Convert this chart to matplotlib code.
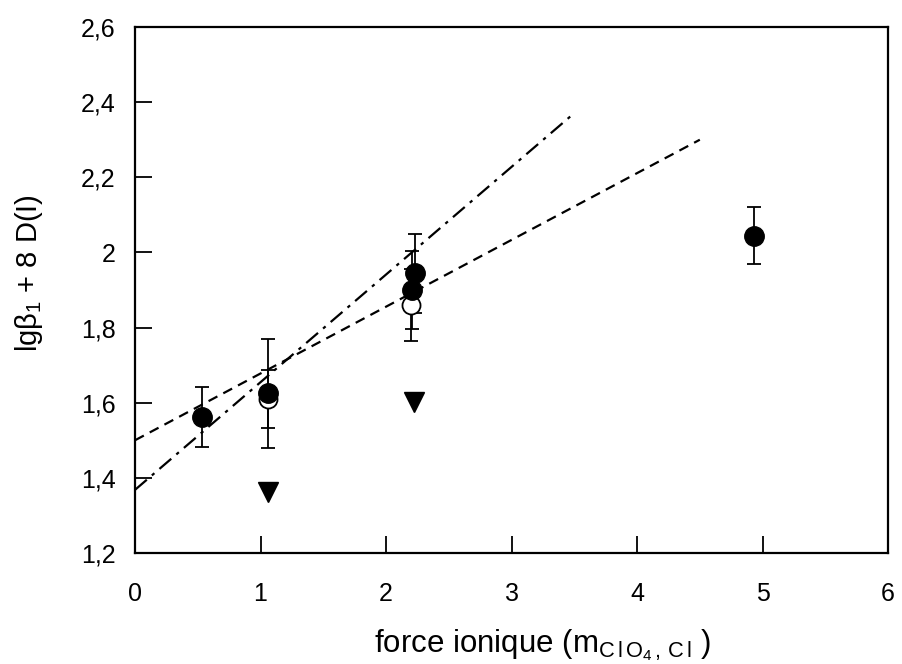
import matplotlib
matplotlib.use('Agg')
import matplotlib.pyplot as plt

plt.rcParams['font.family'] = ['Liberation Sans', 'DejaVu Sans']
plt.rcParams['mathtext.fontset'] = 'custom'
plt.rcParams['mathtext.rm'] = 'Liberation Sans'
plt.rcParams['mathtext.it'] = 'Liberation Sans'

# filled circles
fill_x = [0.53, 1.06, 2.23, 2.21, 4.93]
fill_y = [1.562, 1.625, 1.945, 1.90, 2.044]
fill_err = [0.08, 0.145, 0.105, 0.105, 0.076]

# open circles
open_x = [1.06, 2.20]
open_y = [1.61, 1.86]
open_err = [0.078, 0.095]

# triangles
tri_x = [1.06, 2.22]
tri_y = [1.362, 1.602]

# fitted lines (end points)
dashdot_x = [0.0, 3.5]
dashdot_y = [1.368, 2.371]
dashed_x = [0.0, 4.5]
dashed_y = [1.50, 2.30]

x_ticks = [0, 1, 2, 3, 4, 5, 6]
y_ticks = [1.2, 1.4, 1.6, 1.8, 2.0, 2.2, 2.4, 2.6]
y_labels = ['1,2', '1,4', '1,6', '1,8', '2', '2,2', '2,4', '2,6']

fig = plt.figure(figsize=(9.03, 6.64), dpi=100)
ax = fig.add_axes([0.1495, 0.1672, 0.834, 0.7921])

ax.plot(dashdot_x, dashdot_y, color='black', lw=1.6, dashes=[7, 3, 1.5, 3])
ax.plot(dashed_x, dashed_y, color='black', lw=1.6, dashes=[4.5, 3])

ax.errorbar(open_x, open_y, yerr=open_err, fmt='o', ms=13, mfc='white',
            mec='black', mew=1.3, ecolor='black', elinewidth=1.3, capsize=5,
            capthick=1.3)
ax.errorbar(fill_x, fill_y, yerr=fill_err, fmt='o', ms=14, mfc='black',
            mec='black', ecolor='black', elinewidth=1.3, capsize=5,
            capthick=1.3)
ax.plot(tri_x, tri_y, 'v', color='black', ms=14)

ax.set_xlim(0, 6)
ax.set_ylim(1.2, 2.6)
ax.set_xticks(x_ticks)
ax.set_yticks(y_ticks)
ax.set_yticklabels(y_labels)
ax.tick_params(direction='in', length=12, width=1.3, labelsize=18)
ax.tick_params(axis='x', pad=21)
ax.tick_params(axis='y', pad=14)
for s in ax.spines.values():
    s.set_linewidth(1.6)

ax.set_xlabel(r'force ionique (m$_{\mathregular{C\,l\,O_4\,,\,C\,l}}$ )',
              fontsize=22.5)
ax.set_ylabel(r'lg$\beta_{\mathregular{1}}$ + 8 D(I)', fontsize=21)
ax.xaxis.set_label_coords(0.5405, -0.141)
ax.yaxis.set_label_coords(-0.12, 0.532)

fig.savefig('out.png', dpi=100)
